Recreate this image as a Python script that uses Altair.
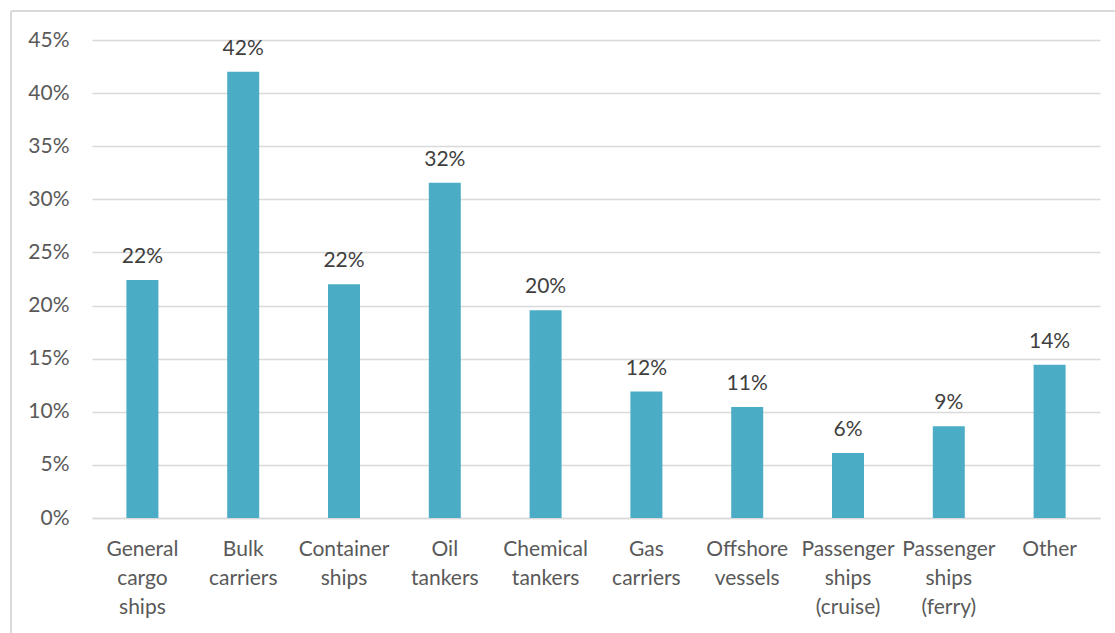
import altair as alt
import pandas as pd

categories = ["General|cargo|ships", "Bulk|carriers", "Container|ships", "Oil|tankers",
              "Chemical|tankers", "Gas|carriers", "Offshore|vessels",
              "Passenger|ships|(cruise)", "Passenger|ships|(ferry)", "Other"]
values = [0.224, 0.420, 0.220, 0.3155, 0.1955, 0.119, 0.1045, 0.0612, 0.0863, 0.1443]
labels = ["22%", "42%", "22%", "32%", "20%", "12%", "11%", "6%", "9%", "14%"]

df = pd.DataFrame({"cat": categories, "val": values, "lab": labels})

FONT = "Lato"
FS = 21
W, H = 1008, 478

base = alt.Chart(df).encode(
    x=alt.X("cat:N", sort=None, title=None,
            scale=alt.Scale(paddingInner=0, paddingOuter=0),
            axis=alt.Axis(labelExpr="split(datum.label, '|')", labelAngle=0,
                          labelFont=FONT, labelFontSize=FS, labelColor="#595959",
                          labelLineHeight=29, labelPadding=20, labelBaseline="top",
                          ticks=False, domainColor="#d9d9d9", domainWidth=1.5,
                          labelLimit=200)),
)

bars = base.mark_bar(size=32, color="#4bacc6").encode(
    y=alt.Y("val:Q", title=None,
            scale=alt.Scale(domain=[0, 0.45], nice=False),
            axis=alt.Axis(values=[0, 0.05, 0.10, 0.15, 0.20, 0.25, 0.30, 0.35, 0.40, 0.45],
                          format=".0%", labelFont=FONT, labelFontSize=FS,
                          labelColor="#595959", labelPadding=23, ticks=False,
                          domain=False, gridColor="#d9d9d9", gridWidth=1.5))
)

text = base.mark_text(font=FONT, fontSize=FS, color="#404040", baseline="alphabetic",
                      dy=-17).encode(
    y=alt.Y("val:Q"),
    text="lab:N",
)

frame_top = alt.Chart(df).mark_rule(color="#d9d9d9", strokeWidth=2).encode(
    x=alt.value(-81), x2=alt.value(1030), y=alt.value(-29))
frame_left = alt.Chart(df).mark_rule(color="#d9d9d9", strokeWidth=2).encode(
    x=alt.value(-81), y=alt.value(-29), y2=alt.value(600))

chart = alt.layer(bars, text, frame_top, frame_left).properties(
    width=W, height=H,
    autosize=alt.AutoSizeParams(type="none"),
    padding={"left": 92, "top": 40, "right": 15, "bottom": 115},
).configure(background="white").configure_view(stroke=None)

chart.save("out.html", embed_options={"renderer": "svg", "actions": False})
